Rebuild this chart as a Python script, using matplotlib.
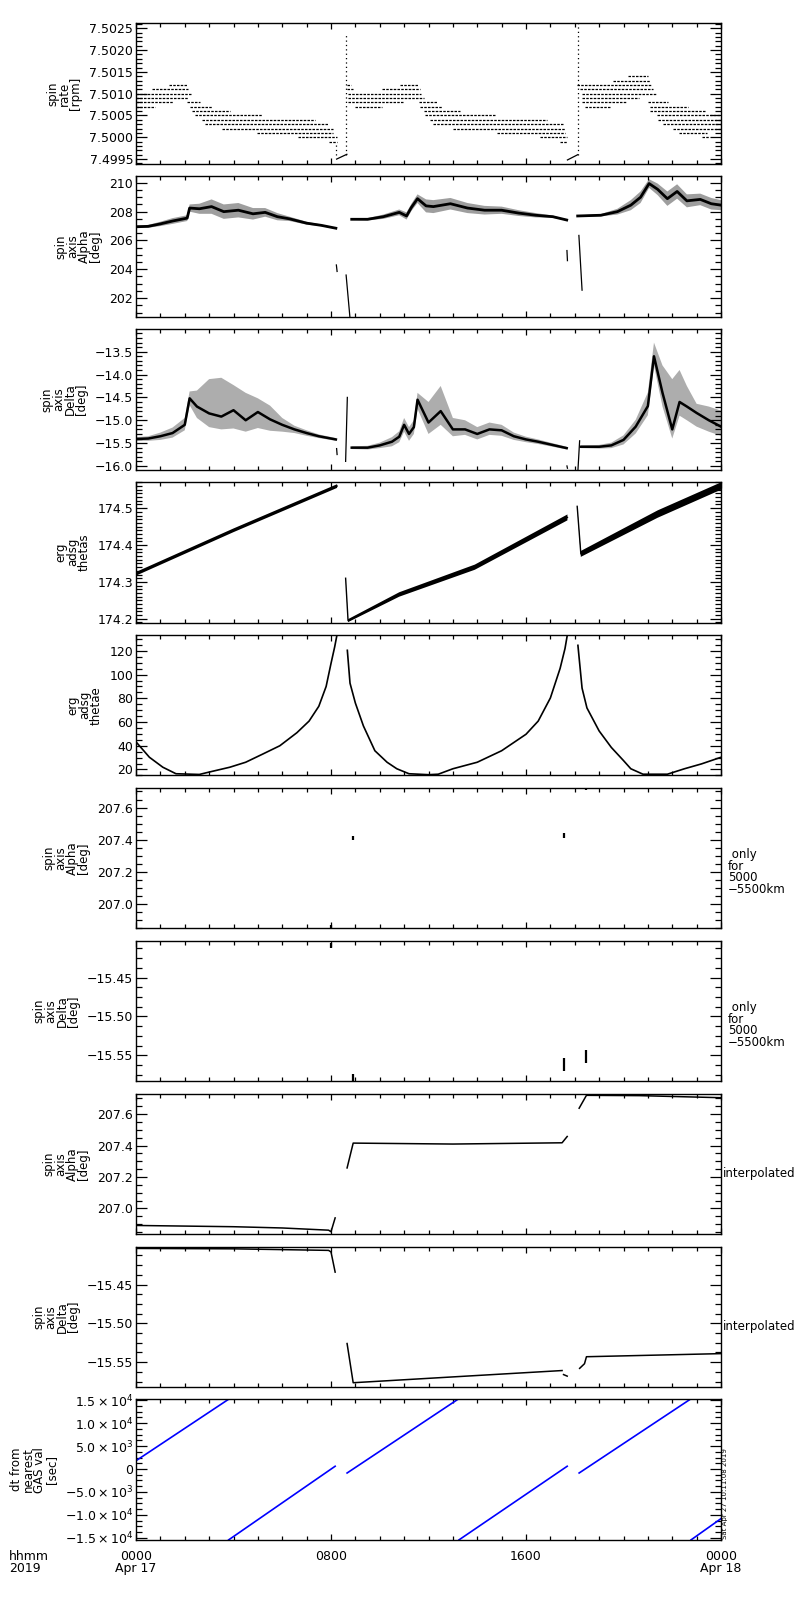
import numpy as np
import matplotlib.pyplot as plt
from matplotlib.ticker import MultipleLocator, AutoMinorLocator, FuncFormatter, FixedLocator

nan = np.nan
plt.rcParams['font.family'] = ['DejaVu Sans']

# ---- panel 1: spin rate, quantised levels (level, start hour, end hour)
rate_lvl = [7.5012, 7.5011, 7.5010, 7.5009, 7.5008, 7.5008, 7.5007, 7.5007, 7.5006, 7.5005,
            7.5004, 7.5003, 7.5002, 7.5001, 7.5000, 7.4999,
            7.5012, 7.5012, 7.5011, 7.5011, 7.5010, 7.5009, 7.5008, 7.5008, 7.5007, 7.5007,
            7.5006, 7.5005, 7.5004, 7.5003, 7.5002, 7.5001, 7.5000, 7.4999,
            7.5014, 7.5013, 7.5012, 7.5011, 7.5010, 7.5009, 7.5008, 7.5008, 7.5007, 7.5007,
            7.5006, 7.5005, 7.5004, 7.5003, 7.5002, 7.5001, 7.5000]
rate_t0 = [1.37, 0.64, 0.0, 0.0, 0.0, 2.1, 0.0, 2.2, 2.3, 2.42, 2.7, 2.83, 3.51, 4.95, 6.66, 7.9,
           8.65, 10.83, 8.65, 10.1, 8.7, 8.7, 8.7, 11.6, 9.0, 11.65, 11.8, 11.86, 12.06, 12.2,
           13.0, 14.8, 16.57, 17.4,
           20.2, 19.58, 18.08, 18.2, 18.28, 18.28, 18.28, 21.02, 18.42, 21.09, 21.09, 21.36,
           21.43, 21.64, 22.05, 22.26, 23.2]
rate_t1 = [2.08, 2.15, 2.28, 2.15, 1.53, 2.63, 0.78, 3.1, 3.86, 5.16, 7.34, 7.89, 8.1, 8.1, 8.23, 8.23,
           8.8, 11.58, 8.9, 11.65, 11.7, 11.8, 10.97, 12.35, 10.1, 12.54, 13.3, 14.73, 16.85, 17.53,
           17.6, 17.6, 17.67, 17.67,
           21.02, 21.09, 21.16, 21.22, 21.36, 20.62, 20.15, 21.84, 19.45, 22.66, 23.34, 24, 24, 24,
           24, 23.42, 23.5]
rate_spike_t = [8.22, 8.6, 18.12]
rate_spike_lo = [7.4996, 7.4996, 7.4996]
rate_spike_hi = [7.4999, 7.5024, 7.50262]
rate_slant_t = [8.23, 8.65, nan, 17.7, 18.12]
rate_slant_v = [7.4995, 7.49961, nan, 7.49948, 7.4996]

# ---- panel 2: spin axis alpha (core value, scatter half width)
alpha_t = [0, 0.5, 1.0, 1.5, 2.1, 2.2, 2.6, 3.1, 3.6, 4.2, 4.8, 5.3, 5.8, 6.3, 7.0, 7.6, 8.2, nan,
           8.85, 9.5, 10.15, 10.8, 11.1, 11.3, 11.55, 11.9, 12.2, 12.9, 13.6, 14.3, 15.0, 15.7, 16.4, 17.1, 17.67, nan,
           18.12, 19.07, 19.75, 20.3, 20.7, 21.05, 21.4, 21.8, 22.2, 22.6, 23.15, 23.6, 24.0]
alpha_v = [206.95, 206.98, 207.15, 207.35, 207.55, 208.25, 208.2, 208.35, 208.0, 208.1, 207.85, 207.95,
           207.65, 207.5, 207.2, 207.05, 206.85, nan,
           207.47, 207.47, 207.65, 207.95, 207.7, 208.3, 208.9, 208.4, 208.35, 208.55, 208.25, 208.1,
           208.1, 207.9, 207.75, 207.65, 207.42, nan,
           207.7, 207.75, 208.0, 208.45, 209.0, 209.95, 209.55, 208.9, 209.4, 208.75, 208.85, 208.55, 208.45]
alpha_s = [0.08, 0.1, 0.15, 0.2, 0.2, 0.25, 0.35, 0.5, 0.5, 0.5, 0.4, 0.3, 0.25, 0.15, 0.1, 0.06, 0.04, nan,
           0.04, 0.08, 0.15, 0.2, 0.25, 0.25, 0.3, 0.45, 0.45, 0.4, 0.35, 0.3, 0.25, 0.2, 0.15, 0.08, 0.04, nan,
           0.04, 0.08, 0.2, 0.35, 0.4, 0.3, 0.4, 0.5, 0.5, 0.45, 0.4, 0.4, 0.35]
alpha_jump_t = [8.22, 8.25, nan, 8.62, 8.78, nan, 17.68, 17.7, nan, 18.17, 18.3]
alpha_jump_v = [204.3, 203.85, nan, 203.6, 200.6, nan, 205.3, 204.6, nan, 206.35, 202.55]

# ---- panel 3: spin axis delta (core, spread above, spread below)
delta_t = [0, 0.5, 1.0, 1.5, 2.0, 2.2, 2.5, 3.0, 3.5, 4.0, 4.5, 5.0, 5.5, 6.0, 6.5, 7.0, 7.5, 8.2, nan,
           8.85, 9.5, 10.0, 10.5, 10.8, 11.0, 11.2, 11.4, 11.55, 12.0, 12.5, 13.0, 13.5, 14.0, 14.5, 15.0,
           15.5, 16.0, 16.5, 17.0, 17.67, nan,
           18.25, 19.0, 19.5, 20.0, 20.5, 21.0, 21.25, 21.6, 22.0, 22.3, 22.6, 23.0, 23.5, 24.0]
delta_v = [-15.41, -15.40, -15.35, -15.28, -15.10, -14.52, -14.70, -14.85, -14.92, -14.78, -15.00, -14.82,
           -14.98, -15.10, -15.20, -15.28, -15.35, -15.42, nan,
           -15.6, -15.6, -15.55, -15.47, -15.36, -15.1, -15.3, -15.15, -14.55, -15.05, -14.8, -15.2, -15.2,
           -15.3, -15.2, -15.22, -15.35, -15.42, -15.47, -15.53, -15.61, nan,
           -15.58, -15.58, -15.55, -15.43, -15.14, -14.69, -13.6, -14.4, -15.2, -14.6, -14.7, -14.84, -15.0, -15.14]
delta_up = [0.04, 0.05, 0.08, 0.12, 0.15, 0.15, 0.35, 0.75, 0.85, 0.55, 0.6, 0.3, 0.3, 0.15, 0.08, 0.06, 0.04, 0.03, nan,
            0.03, 0.04, 0.06, 0.1, 0.12, 0.15, 0.15, 0.15, 0.15, 0.45, 0.55, 0.25, 0.2, 0.15, 0.15, 0.12,
            0.08, 0.06, 0.05, 0.04, 0.03, nan,
            0.03, 0.04, 0.06, 0.1, 0.15, 0.3, 0.3, 0.6, 1.1, 0.7, 0.45, 0.2, 0.3, 0.35]
delta_dn = [0.04, 0.05, 0.08, 0.1, 0.12, 0.15, 0.25, 0.3, 0.28, 0.4, 0.25, 0.35, 0.25, 0.15, 0.08, 0.06, 0.04, 0.03, nan,
            0.03, 0.04, 0.06, 0.1, 0.12, 0.15, 0.15, 0.15, 0.2, 0.25, 0.3, 0.15, 0.12, 0.12, 0.12, 0.12,
            0.08, 0.06, 0.05, 0.04, 0.03, nan,
            0.03, 0.04, 0.06, 0.1, 0.15, 0.2, 0.2, 0.3, 0.2, 0.3, 0.3, 0.3, 0.25, 0.2]
delta_jump_t = [8.23, 8.25, nan, 8.6, 8.67, nan, 17.68, 17.7, nan, 18.13, 18.2]
delta_jump_v = [-15.62, -15.75, nan, -15.9, -14.5, nan, -16.0, -16.05, nan, -16.1, -15.45]

# ---- panel 4: erg adsg thetas (value, band half width)
thetas_t = [0, 4.0, 8.25, nan, 8.6, 8.7, 10.8, 13.9, 17.7, nan, 18.1, 18.25, 21.4, 24.0]
thetas_v = [174.322, 174.44, 174.56, nan, 174.31, 174.195, 174.266, 174.34, 174.475, nan,
            174.505, 174.376, 174.484, 174.56]
thetas_w = [0.005, 0.005, 0.005, nan, 0.001, 0.004, 0.006, 0.007, 0.008, nan, 0.001, 0.008, 0.01, 0.01]

# ---- panel 5: erg adsg thetae
thetae_t = [0, 0.55, 1.1, 1.64, 2.6, 3.0, 3.85, 4.5, 5.2, 5.9, 6.6, 7.1, 7.5, 7.8, 8.0, 8.15, 8.25, nan,
            8.67, 8.78, 9.0, 9.33, 9.8, 10.3, 10.7, 11.2, 12.0, 12.4, 13.0, 14.0, 15.0, 16.0, 16.5, 17.0,
            17.4, 17.6, 17.7, nan,
            18.13, 18.3, 18.5, 19.0, 19.5, 20.0, 20.3, 20.8, 21.8, 22.5, 23.2, 24.0]
thetae_v = [43.3, 30.3, 21.9, 16.4, 15.8, 17.8, 21.9, 26.1, 33, 40, 51, 60.8, 73.3, 90, 109.4, 123.3, 134, nan,
            120.5, 92.8, 76, 56.7, 35.8, 26.1, 20.6, 16.4, 15.6, 16.0, 20.6, 26.1, 35.8, 49.7, 60.8, 80.3,
            105.3, 122, 134, nan,
            124.7, 88.6, 71.9, 52.5, 38.6, 27.5, 20.6, 16.0, 16.0, 20.6, 24.7, 30.3]

# ---- panels 6,7: only for 5000-5500 km (short marks)
only_t = [8.0, 8.91, 17.54, 18.48]
only_alpha_lo = [206.85, 207.40, 207.41, 207.71]
only_alpha_hi = [206.87, 207.42, 207.44, 207.725]
only_delta_lo = [-15.412, -15.583, -15.570, -15.560]
only_delta_hi = [-15.406, -15.574, -15.553, -15.543]

# ---- panels 8,9: interpolated
interp_alpha_t = [0, 4, 6, 7.9, 8.0, 8.17, nan, 8.66, 8.91, 13, 17.48, 17.69, nan,
                  18.18, 18.48, 20.66, 23.72, 24]
interp_alpha_v = [206.892, 206.884, 206.876, 206.862, 206.852, 206.94, nan, 207.258, 207.416, 207.41,
                  207.418, 207.458, nan, 207.638, 207.72, 207.718, 207.706, 207.705]
interp_delta_t = [0, 4, 7.9, 8.0, 8.17, nan, 8.66, 8.91, 13, 17.48, nan, 17.54, 17.69, nan,
                  18.2, 18.4, 18.48, 24]
interp_delta_v = [-15.4035, -15.404, -15.406, -15.408, -15.434, nan, -15.526, -15.5765, -15.569, -15.5608,
                  nan, -15.566, -15.568, nan, -15.558, -15.552, -15.543, -15.539]

# ---- panel 10: dt from nearest GAS value
dt_t = [0, 3.79, nan, 3.80, 8.17, nan, 8.66, 13.2, nan, 13.25, 17.69, nan, 18.18, 22.73, nan, 22.77, 24]
dt_v = [1800, 15150, nan, -15430, 600, nan, -870, 15150, nan, -15430, 600, nan, -870, 15150, nan, -15430, -10800]

labels = ['spin\nrate\n[rpm]', 'spin\naxis\nAlpha\n[deg]', 'spin\naxis\nDelta\n[deg]',
          'erg\nadsg\nthetas', 'erg\nadsg\nthetae', 'spin\naxis\nAlpha\n[deg]', 'spin\naxis\nDelta\n[deg]',
          'spin\naxis\nAlpha\n[deg]', 'spin\naxis\nDelta\n[deg]', 'dt from\nnearest\nGAS val\n[sec]']
ylims = [(7.499392, 7.502615), (200.71, 210.46), (-16.08, -13.005), (174.19, 174.571), (15.0, 133.5),
         (206.848, 207.723), (-15.5833, -15.4026), (206.837, 207.731), (-15.582, -15.401), (-15430, 15150)]
majors = [0.0005, 2, 0.5, 0.1, 20, 0.2, 0.05, 0.2, 0.05, 5000]
minors = [5, 4, 5, 10, 4, 4, 4, 4, 4, 4]
decimals = [4, 0, 1, 1, 0, 1, 2, 1, 2, None]


def fmt_dec(n):
    def f(v, pos):
        return ('%.*f' % (n, v)).replace('-', '\u2212')
    return f


def fmt_sci(v, pos):
    if abs(v) < 1:
        return '0'
    e = int(np.floor(np.log10(abs(v)) + 1e-9))
    return r'$%.1f\times10^{%d}$' % (v / 10 ** e, e)


fig = plt.figure(figsize=(8, 16), dpi=100)
axes = []
for i in range(10):
    top = 23.3 + 152.9 * i
    h = 140.5
    ax = fig.add_axes([136 / 800, 1 - (top + h) / 1600, 585 / 800, h / 1600])
    ax.set_xlim(0, 24)
    ax.set_ylim(*ylims[i])
    ax.xaxis.set_major_locator(FixedLocator([0, 8, 16, 24]))
    ax.xaxis.set_minor_locator(MultipleLocator(1))
    ax.yaxis.set_major_locator(MultipleLocator(majors[i]))
    ax.yaxis.set_minor_locator(AutoMinorLocator(minors[i]))
    if decimals[i] is None:
        ax.yaxis.set_major_formatter(FuncFormatter(fmt_sci))
    else:
        ax.yaxis.set_major_formatter(FuncFormatter(fmt_dec(decimals[i])))
    ax.tick_params(which='both', direction='in', top=True, right=True, width=0.9, colors='k')
    ax.tick_params(axis='y', which='major', length=8, labelsize=9, pad=2)
    ax.tick_params(axis='y', which='minor', length=4.5)
    ax.tick_params(axis='x', which='major', length=4.5, labelsize=9, pad=7)
    ax.tick_params(axis='x', which='minor', length=3)
    for sp in ax.spines.values():
        sp.set_linewidth(1.0)
    ax.set_ylabel(labels[i], fontsize=8.5, linespacing=0.85, labelpad=5)
    if i < 9:
        ax.set_xticklabels([])
    axes.append(ax)

# panel 1
ax = axes[0]
ax.hlines(rate_lvl, rate_t0, rate_t1, colors='k', linestyles=(0, (2, 1)), lw=0.9)
ax.vlines(rate_spike_t, rate_spike_lo, rate_spike_hi, colors='k', linestyles=(0, (1, 2.5)), lw=0.9)
ax.plot(rate_slant_t, rate_slant_v, 'k-', lw=0.9)

# panel 2 (scatter cloud drawn as a light band around the dense core)
ax = axes[1]
a_t = np.array(alpha_t); a_v = np.array(alpha_v); a_s = np.array(alpha_s)
ax.fill_between(a_t, a_v - a_s, a_v + a_s, color='0.62', lw=0)
ax.plot(a_t, a_v, 'k-', lw=2.0)
ax.plot(alpha_jump_t, alpha_jump_v, 'k-', lw=0.9)

# panel 3
ax = axes[2]
d_t = np.array(delta_t); d_v = np.array(delta_v)
ax.fill_between(d_t, d_v - np.array(delta_dn), d_v + np.array(delta_up), color='0.68', lw=0)
ax.plot(d_t, d_v, 'k-', lw=1.8)
ax.plot(delta_jump_t, delta_jump_v, 'k-', lw=0.9)

# panel 4
ax = axes[3]
s_t = np.array(thetas_t); s_v = np.array(thetas_v); s_w = np.array(thetas_w)
ax.fill_between(s_t, s_v - s_w, s_v + s_w, color='k', lw=0)
ax.plot(s_t, s_v, 'k-', lw=1.0)

# panel 5
axes[4].plot(thetae_t, thetae_v, 'k-', lw=1.2)

# panels 6, 7
axes[5].vlines(only_t, only_alpha_lo, only_alpha_hi, colors='k', lw=1.6)
axes[6].vlines(only_t, only_delta_lo, only_delta_hi, colors='k', lw=1.6)
for ax in axes[5:7]:
    ax.text(1.012, 0.40, ' only\nfor\n5000\n\u22125500km', transform=ax.transAxes,
            ha='left', va='center', fontsize=8.5, linespacing=0.85)

# panels 8, 9
axes[7].plot(interp_alpha_t, interp_alpha_v, 'k-', lw=1.1)
axes[8].plot(interp_delta_t, interp_delta_v, 'k-', lw=1.1)
for ax in axes[7:9]:
    ax.text(1.003, 0.43, 'interpolated', transform=ax.transAxes,
            ha='left', va='center', fontsize=8.5)

# panel 10
axes[9].plot(dt_t, dt_v, '-', color='#0000ff', lw=1.2)
axes[9].set_xticklabels(['0000\nApr 17', '0800', '1600', '0000\nApr 18'])
for lab in axes[9].get_xticklabels():
    lab.set_linespacing(0.95)

fig.text(9 / 800, 1 - 1550 / 1600, 'hhmm\n2019', ha='left', va='top', fontsize=9, linespacing=0.95)
fig.text(722 / 800, 1 - 1539 / 1600, 'Sat Apr 27 10:11:08 2019', rotation=90,
         ha='left', va='bottom', fontsize=5)

fig.savefig('out.png', dpi=100, facecolor='white')
